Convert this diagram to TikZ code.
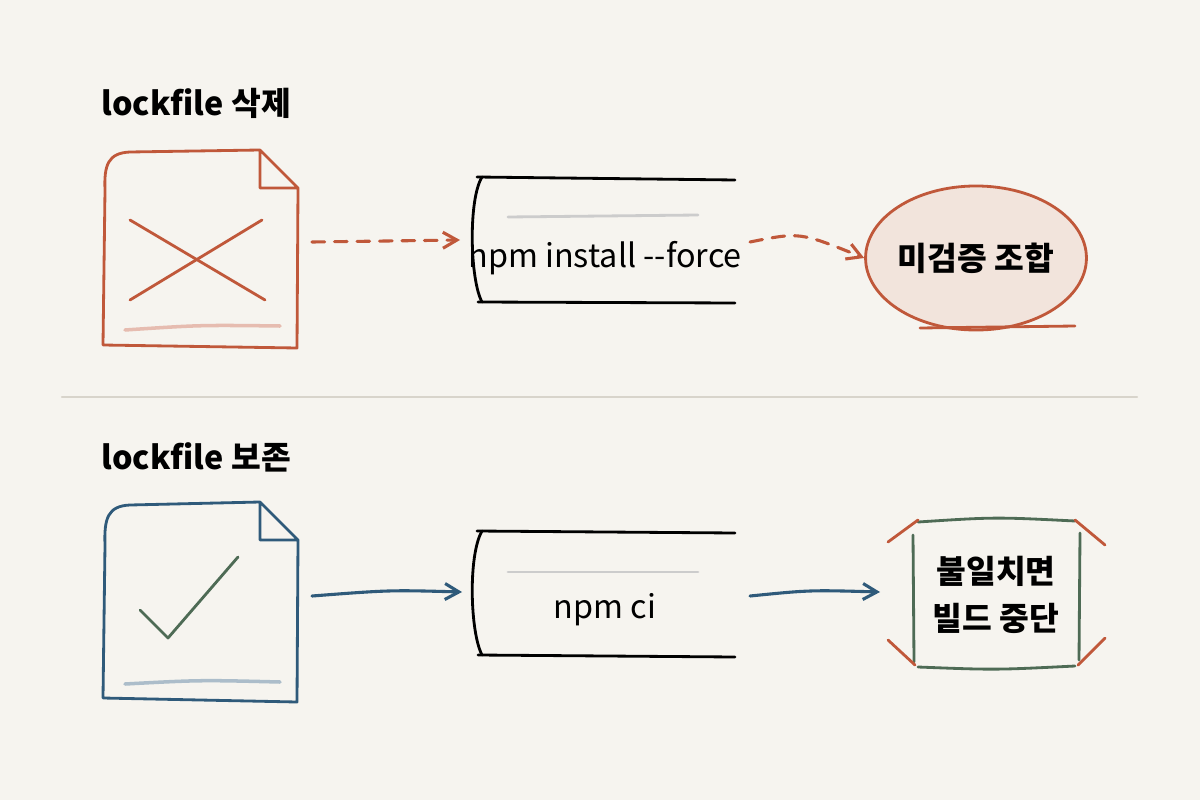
\documentclass[tikz,border=0pt]{standalone}
\usepackage{fontspec}
\setmainfont{Noto Sans CJK KR}
\usetikzlibrary{arrows.meta,positioning,shapes.geometric}
\definecolor{paper}{HTML}{F6F4EF}
\definecolor{rust}{HTML}{C0583A}
\definecolor{slate}{HTML}{2F5A7A}
\definecolor{moss}{HTML}{4E6B55}
\definecolor{blush}{HTML}{F2E4DC}
\definecolor{rule}{HTML}{D8D4CB}
\begin{document}
\begin{tikzpicture}
[x=0.025cm, y=-0.025cm, line width=2pt, line cap=round, line join=round,
head/.style={font=\bfseries\fontsize{23}{28}\selectfont, anchor=west, inner sep=0pt},
cmd/.style={font=\fontsize{23}{28}\selectfont, inner sep=0pt},
flow/.style={-{Straight Barb[length=3.5mm,width=4mm]}, line width=2.2pt},
res/.style={font=\bfseries\fontsize{23}{33}\selectfont, align=center}]

\fill[paper] (0,0) rectangle (1200,800);
\useasboundingbox (0,0) rectangle (1200,800);

% divider
\draw[rule, line width=1.5pt] (62,397) -- (1137,397);

% --- lockfile 삭제 ---
\node[head] (t1) at (100,103) {lockfile 삭제};
\draw[rust] (260,150) -- (130,152) .. controls (108,153) and (104,165) .. (105,190)
  -- (103,345) -- (297,348) -- (298,188) -- (260,150) -- (260,188) -- (298,188);
\draw[rust] (130,220) -- (265,300);
\draw[rust] (130,300) -- (262,220);
\draw[rust!40, line width=2.5pt] (125,330) .. controls (200,325) .. (280,326);

\draw (477,177) -- (735,180);
\draw (478,302) -- (735,303);
\draw (482,177) .. controls (468,200) and (470,280) .. (482,302);
\draw[black!20] (508,217) -- (698,215);
\node[cmd] (c1) at (605,258) {npm install -{}-force};

\node[ellipse, draw=rust, fill=blush, inner sep=0pt,
  minimum width=5.05cm, minimum height=3.6cm, res] (r1) at (976,258) {미검증 조합};
\draw[rust] (920,328) -- (1075,326);

\coordinate (s1) at (312,242);
\coordinate (e1) at (460,240);
\coordinate (s2) at (750,242);
\draw[rust, flow, dash pattern=on 9pt off 7pt] (s1) -- (e1);
\draw[rust, flow, dash pattern=on 9pt off 7pt] (s2) .. controls (800,232) .. (r1.west);

% --- lockfile 보존 ---
\node[head] (t2) at (100,457) {lockfile 보존};
\draw[slate] (260,502) -- (130,505) .. controls (108,506) and (104,518) .. (105,545)
  -- (103,698) -- (297,702) -- (298,540) -- (260,502) -- (260,540) -- (298,540);
\draw[moss] (140,610) -- (168,638) -- (238,557);
\draw[slate!40, line width=2.5pt] (125,684) .. controls (200,680) .. (280,682);

\draw (477,531) -- (735,533);
\draw (478,655) -- (735,657);
\draw (482,531) .. controls (468,555) and (470,632) .. (482,655);
\draw[black!20] (508,572) -- (698,572);
\node[cmd] (c2) at (605,610) {npm ci};

\node[res] (r2) at (996,595) {불일치면\\빌드 중단};
\draw[moss] (918,522) .. controls (995,517) .. (1075,521);
\draw[moss] (918,667) .. controls (995,670) .. (1075,666);
\draw[moss] (913,535) -- (914,662);
\draw[moss] (1080,533) -- (1079,660);
\draw[rust] (888,542) -- (918,520);
\draw[rust] (1075,520) -- (1105,545);
\draw[rust] (888,640) -- (915,665);
\draw[rust] (1078,665) -- (1105,638);

\coordinate (s3) at (312,596);
\coordinate (e3) at (462,592);
\coordinate (s4) at (750,596);
\coordinate (e4) at (880,592);
\draw[slate, flow] (s3) .. controls (390,590) .. (e3);
\draw[slate, flow] (s4) .. controls (810,590) .. (e4);
\end{tikzpicture}
\end{document}
